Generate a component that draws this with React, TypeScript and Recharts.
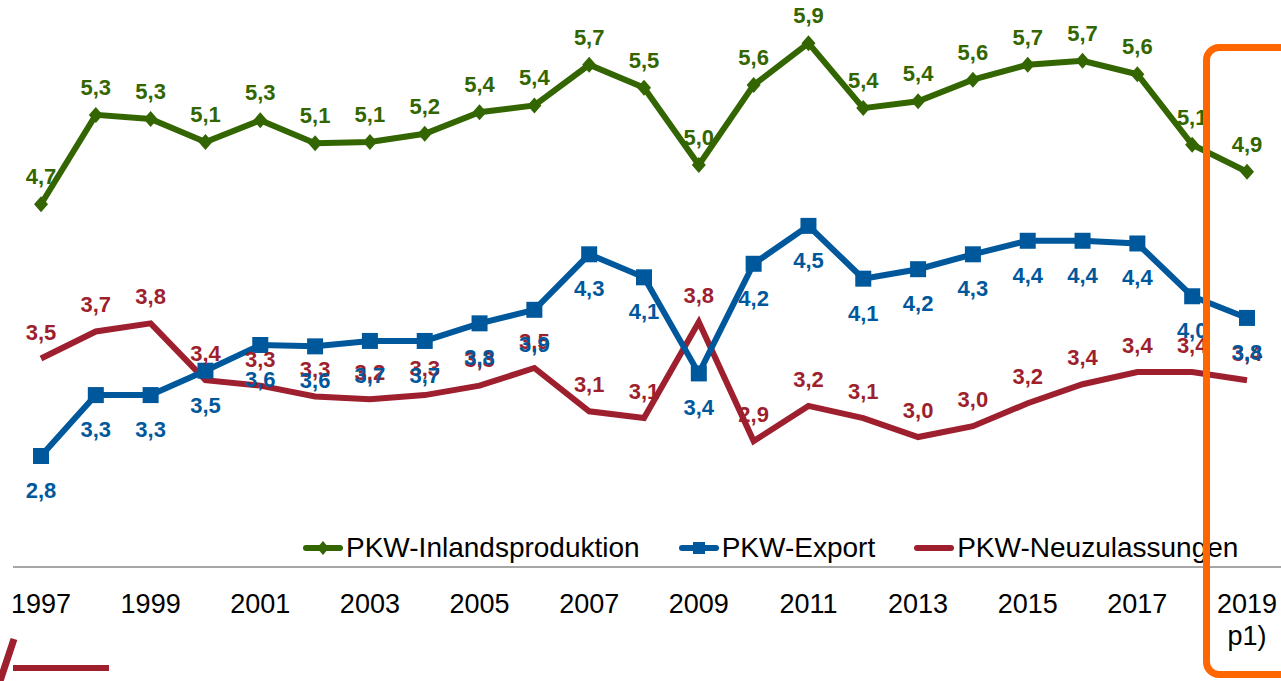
import React from "react";
import { LineChart, Line, XAxis, YAxis, Legend, LabelList } from "recharts";

// PKW production, exports and registrations in Germany (Mio.)
const years = [
  1997, 1998, 1999, 2000, 2001, 2002, 2003, 2004, 2005, 2006, 2007, 2008,
  2009, 2010, 2011, 2012, 2013, 2014, 2015, 2016, 2017, 2018, 2019,
];
const inlandsproduktion = [
  4.68, 5.34, 5.31, 5.14, 5.3, 5.13, 5.14, 5.2, 5.36, 5.41, 5.71, 5.54,
  4.97, 5.56, 5.87, 5.39, 5.44, 5.6, 5.71, 5.74, 5.64, 5.12, 4.92,
];
const pkwExport = [
  2.82, 3.27, 3.27, 3.45, 3.64, 3.63, 3.67, 3.67, 3.8, 3.9, 4.31, 4.14,
  3.43, 4.24, 4.52, 4.13, 4.2, 4.31, 4.41, 4.41, 4.39, 4.0, 3.84,
];
const neuzulassungen = [
  3.54, 3.74, 3.8, 3.38, 3.34, 3.26, 3.24, 3.27, 3.34, 3.47, 3.15, 3.1,
  3.81, 2.93, 3.19, 3.1, 2.96, 3.04, 3.21, 3.35, 3.44, 3.44, 3.38,
];
const tickYears = [1997, 1999, 2001, 2003, 2005, 2007, 2009, 2011, 2013, 2015, 2017, 2019];

const GREEN = "#336600";
const BLUE = "#00589c";
const RED = "#9e1f2d";
const FONT = "'Liberation Sans', Arial, sans-serif";

const data = years.map((year, i) => ({
  year,
  inland: inlandsproduktion[i],
  export: pkwExport[i],
  neu: neuzulassungen[i],
}));

const fmt = (v: number) => v.toFixed(1).replace(".", ",");

const Diamond = (props: any) => {
  const { cx, cy } = props;
  if (cx == null || cy == null) return null;
  return <polygon points={`${cx},${cy - 8} ${cx + 7},${cy} ${cx},${cy + 8} ${cx - 7},${cy}`} fill={GREEN} />;
};

const Square = (props: any) => {
  const { cx, cy } = props;
  if (cx == null || cy == null) return null;
  return <rect x={cx - 8} y={cy - 8} width={16} height={16} fill={BLUE} />;
};

const valueLabel = (color: string, dy: number) => (props: any) => {
  const { x, y, value } = props;
  return (
    <text x={x} y={y + dy} textAnchor="middle" fill={color} fontFamily={FONT} fontWeight="bold" fontSize={22}>
      {fmt(Number(value))}
    </text>
  );
};

const YearTick = (props: any) => {
  const { x, y, payload } = props;
  return (
    <g>
      <text x={x} y={y + 46} textAnchor="middle" fill="#000" fontFamily={FONT} fontSize={27}>
        {payload.value}
      </text>
      {payload.value === 2019 && (
        <text x={x} y={y + 78} textAnchor="middle" fill="#000" fontFamily={FONT} fontSize={27}>
          p1)
        </text>
      )}
    </g>
  );
};

const legendItems = [
  { name: "PKW-Inlandsproduktion", color: GREEN, marker: "diamond" },
  { name: "PKW-Export", color: BLUE, marker: "square" },
  { name: "PKW-Neuzulassungen", color: RED, marker: "none" },
];

const LegendContent = () => (
  <div style={{ display: "flex", alignItems: "center", gap: 39, fontFamily: FONT, fontSize: 28, color: "#000", whiteSpace: "nowrap" }}>
    {legendItems.map((it) => (
      <div key={it.name} style={{ display: "flex", alignItems: "center" }}>
        <svg width={40} height={18} style={{ marginRight: 3 }}>
          <line x1={3} y1={9} x2={37} y2={9} stroke={it.color} strokeWidth={6} strokeLinecap="round" />
          {it.marker === "diamond" && <polygon points="20,2 26,9 20,16 14,9" fill={it.color} />}
          {it.marker === "square" && <rect x={14} y={3} width={12} height={12} fill={it.color} />}
        </svg>
        <span>{it.name}</span>
      </div>
    ))}
  </div>
);

export default function App() {
  return (
    <div style={{ position: "absolute", left: 0, top: 0, width: 1281, height: 681, background: "#fff", overflow: "hidden" }}>
      <LineChart width={1281} height={681} data={data} margin={{ top: 12, left: 13, right: 0, bottom: 54 }}>
        <XAxis
          dataKey="year"
          type="number"
          domain={[1997, 2019]}
          ticks={tickYears}
          interval={0}
          padding={{ left: 28, right: 34 }}
          height={60}
          tickSize={0}
          tickMargin={0}
          tickLine={false}
          axisLine={{ stroke: "#a6a6a6", strokeWidth: 2 }}
          tick={<YearTick />}
        />
        <YAxis hide type="number" domain={[2, 6.1]} allowDataOverflow width={0} />
        <Legend
          layout="horizontal"
          verticalAlign="middle"
          align="center"
          content={<LegendContent />}
          wrapperStyle={{ position: "absolute", left: 303, top: 532, width: "auto" }}
        />
        <Line
          dataKey="neu"
          name="PKW-Neuzulassungen"
          stroke={RED}
          strokeWidth={6}
          dot={false}
          isAnimationActive={false}
        >
          <LabelList dataKey="neu" content={valueLabel(RED, -19)} />
        </Line>
        <Line
          dataKey="export"
          name="PKW-Export"
          stroke={BLUE}
          strokeWidth={6}
          dot={<Square />}
          isAnimationActive={false}
        >
          <LabelList dataKey="export" content={valueLabel(BLUE, 42)} />
        </Line>
        <Line
          dataKey="inland"
          name="PKW-Inlandsproduktion"
          stroke={GREEN}
          strokeWidth={6}
          dot={<Diamond />}
          isAnimationActive={false}
        >
          <LabelList dataKey="inland" content={valueLabel(GREEN, -20)} />
        </Line>
      </LineChart>
      {/* highlight box for the preliminary year */}
      <div
        style={{
          position: "absolute",
          left: 1203,
          top: 44,
          width: 110,
          height: 634,
          border: "7px solid #ff6600",
          borderRadius: 16,
          boxSizing: "border-box",
          pointerEvents: "none",
        }}
      />
      {/* logo fragment */}
      <svg width={120} height={50} style={{ position: "absolute", left: 0, top: 631 }}>
        <line x1={14} y1={8} x2={0} y2={50} stroke={RED} strokeWidth={7} />
        <line x1={13} y1={37} x2={109} y2={37} stroke={RED} strokeWidth={6} />
      </svg>
    </div>
  );
}
